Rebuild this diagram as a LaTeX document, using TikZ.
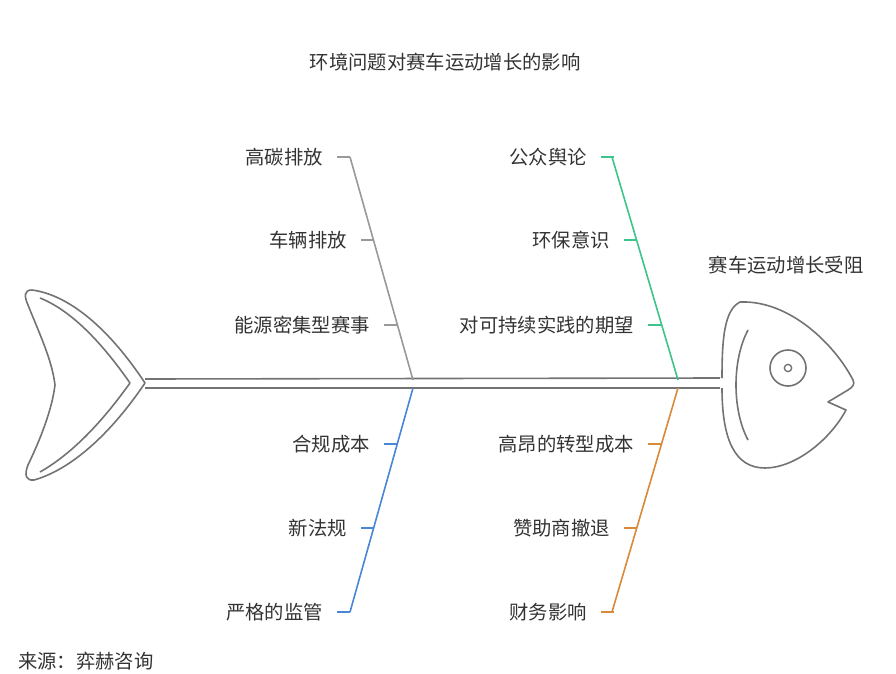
\documentclass[tikz,border=0pt]{standalone}
\usepackage{fontspec}
\setmainfont{Noto Sans CJK SC}
\begin{document}
\begin{tikzpicture}[x=0.75pt,y=-0.75pt,
  lbl/.style={font=\fontsize{14.5}{17}\selectfont,text=black!80,inner sep=0pt},
  lft/.style={lbl,anchor=east},
  bone/.style={line width=1.2pt},
  fish/.style={draw=black!55,line width=1.2pt,line join=round}]
\useasboundingbox (0,0) rectangle (896,674);
\definecolor{cg}{HTML}{999999}\definecolor{cgr}{HTML}{3DC48A}
\definecolor{cb}{HTML}{4A86D6}\definecolor{co}{HTML}{D9893A}
\node[lbl] (title) at (445,62) {环境问题对赛车运动增长的影响};
\node[lbl] (eff) at (786,265) {赛车运动增长受阻};
\node[lbl,anchor=west] (src) at (18,661) {来源：弈赫咨询};
% spine
\draw[fish] (145,379) -- (720,378);
\draw[fish] (145,388) -- (720,388);
% tail
\draw[fish] (145,383) .. controls (110,330) and (70,295) .. (32,290)
  .. controls (24,290) and (24,296) .. (28,305)
  .. controls (40,335) and (52,360) .. (55,385)
  .. controls (52,410) and (40,440) .. (28,465)
  .. controls (24,475) and (26,481) .. (34,480)
  .. controls (70,470) and (110,435) .. cycle;
\draw[fish] (130,383) .. controls (100,340) and (70,310) .. (40,298);
\draw[fish] (130,383) .. controls (100,425) and (70,455) .. (40,472);
% head
\draw[fish] (722,378) .. controls (722,340) and (724,310) .. (740,302)
  .. controls (790,300) and (835,345) .. (853,380)
  .. controls (855,384) and (853,387) .. (848,390)
  -- (828,402) -- (846,410)
  .. controls (830,440) and (795,468) .. (765,468)
  .. controls (735,468) and (722,440) .. (722,388);
\draw[fish] (748,330) .. controls (732,360) and (732,410) .. (748,440);
\node[draw=black!55,line width=1.2pt,circle,minimum size=27pt,inner sep=0] (eye) at (788,368) {};
\node[draw=black!55,line width=1pt,circle,minimum size=5.5pt,inner sep=0] (pupil) at (788,368) {};
% bones
\coordinate (g0) at (350,157); \coordinate (g1) at (413,380);
\draw[bone,cg] (g0) -- (g1);
\coordinate (n0) at (612,157); \coordinate (n1) at (678,380);
\draw[bone,cgr] (n0) -- (n1);
\coordinate (b0) at (413,388); \coordinate (b1) at (350,612);
\draw[bone,cb] (b0) -- (b1);
\coordinate (o0) at (678,388); \coordinate (o1) at (612,612);
\draw[bone,co] (o0) -- (o1);
% labels and ticks
\foreach \t/\y/\xe/\c/\n in {高碳排放/157/323/cg/a1,车辆排放/240/347/cg/a2,能源密集型赛事/325/370/cg/a3,
  公众舆论/157/587/cgr/c1,环保意识/240/610/cgr/c2,对可持续实践的期望/325/634/cgr/c3,
  合规成本/444/370/cb/d1,新法规/528/347/cb/d2,严格的监管/612/323/cb/d3,
  高昂的转型成本/444/634/co/e1,赞助商撤退/528/610/co/e2,财务影响/612/587/co/e3}{
  \node[lft] (\n) at (\xe,\y) {\t};
  \draw[bone,\c] ([xshift=14*0.75pt]\n.east) -- ++(13,0);
}
\end{tikzpicture}
\end{document}
